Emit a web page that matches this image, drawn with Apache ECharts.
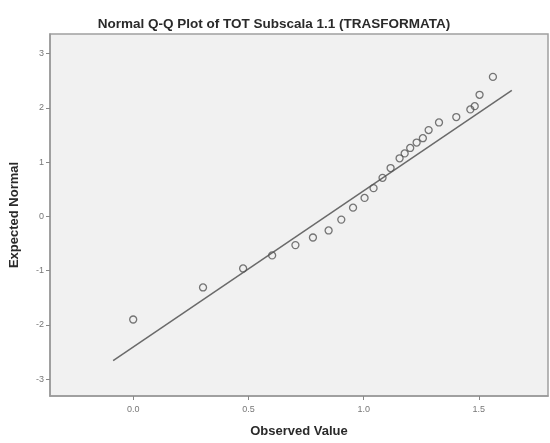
<!DOCTYPE html>
<html><head><meta charset="utf-8">
<script src="https://cdn.jsdelivr.net/npm/echarts@6/dist/echarts.min.js"></script>
<style>html,body{margin:0;padding:0;background:#fff}#c{width:550px;height:443px}</style>
</head><body><div id="c"></div>
<script>
var observed = [0.000,0.303,0.477,0.603,0.704,0.780,0.848,0.903,0.954,1.004,1.043,1.082,1.117,1.156,1.178,1.202,1.230,1.257,1.282,1.327,1.402,1.463,1.482,1.503,1.561];
var expected = [-1.90,-1.31,-0.96,-0.72,-0.53,-0.39,-0.26,-0.06,0.16,0.34,0.52,0.71,0.89,1.07,1.16,1.26,1.36,1.44,1.59,1.73,1.83,1.97,2.03,2.24,2.57];
var lineX = [-0.087, 1.643];
var lineY = [-2.66, 2.32];
var xTicks = [0.0, 0.5, 1.0, 1.5];
var yTicks = [-3, -2, -1, 0, 1, 2, 3];

var pts = observed.map(function(v,i){return [v, expected[i]];});
var ln = lineX.map(function(v,i){return [v, lineY[i]];});
var chart = echarts.init(document.getElementById('c'));
chart.setOption({
  backgroundColor:'#ffffff',
  animation:false,
  title:{text:'Normal Q-Q Plot of TOT Subscala 1.1 (TRASFORMATA)',left:269,top:12,textAlign:'center',
    textStyle:{fontFamily:'Liberation Sans',fontSize:13.5,fontWeight:'bold',color:'#2a2a2a'}},
  grid:{left:50,top:34,right:2,bottom:40,show:true,backgroundColor:'#f1f1f1',borderColor:'#a0a0a0',borderWidth:1.5},
  xAxis:{type:'value',min:-0.361,max:1.80,
    name:'Observed Value',nameLocation:'middle',nameGap:29,
    nameTextStyle:{fontFamily:'Liberation Sans',fontSize:13,fontWeight:'bold',color:'#2a2a2a'},
    axisLine:{show:true,onZero:false,lineStyle:{color:'#999',width:1.5}},
    axisTick:{show:true,length:4,customValues:xTicks,lineStyle:{color:'#888'}},
    axisLabel:{customValues:xTicks,fontFamily:'Liberation Sans',fontSize:9,color:'#777',margin:9,
      formatter:function(v){return v.toFixed(1);}},
    splitLine:{show:false}},
  yAxis:{type:'value',min:-3.31,max:3.36,
    name:'Expected Normal',nameLocation:'middle',nameGap:29,
    nameTextStyle:{fontFamily:'Liberation Sans',fontSize:13,fontWeight:'bold',color:'#2a2a2a'},
    axisLine:{show:true,onZero:false,lineStyle:{color:'#999',width:1.5}},
    axisTick:{show:true,length:4,customValues:yTicks,lineStyle:{color:'#888'}},
    axisLabel:{customValues:yTicks,fontFamily:'Liberation Sans',fontSize:9,color:'#777',margin:6,
      formatter:function(v){return String(Math.round(v));}},
    splitLine:{show:false}},
  series:[
    {type:'line',data:ln,symbol:'none',lineStyle:{color:'#6a6a6a',width:1.5},z:2},
    {type:'scatter',data:pts,symbol:'circle',symbolSize:7,
      itemStyle:{color:'rgba(0,0,0,0)',borderColor:'#555',borderWidth:1.3},z:3}
  ]
});
</script></body></html>
